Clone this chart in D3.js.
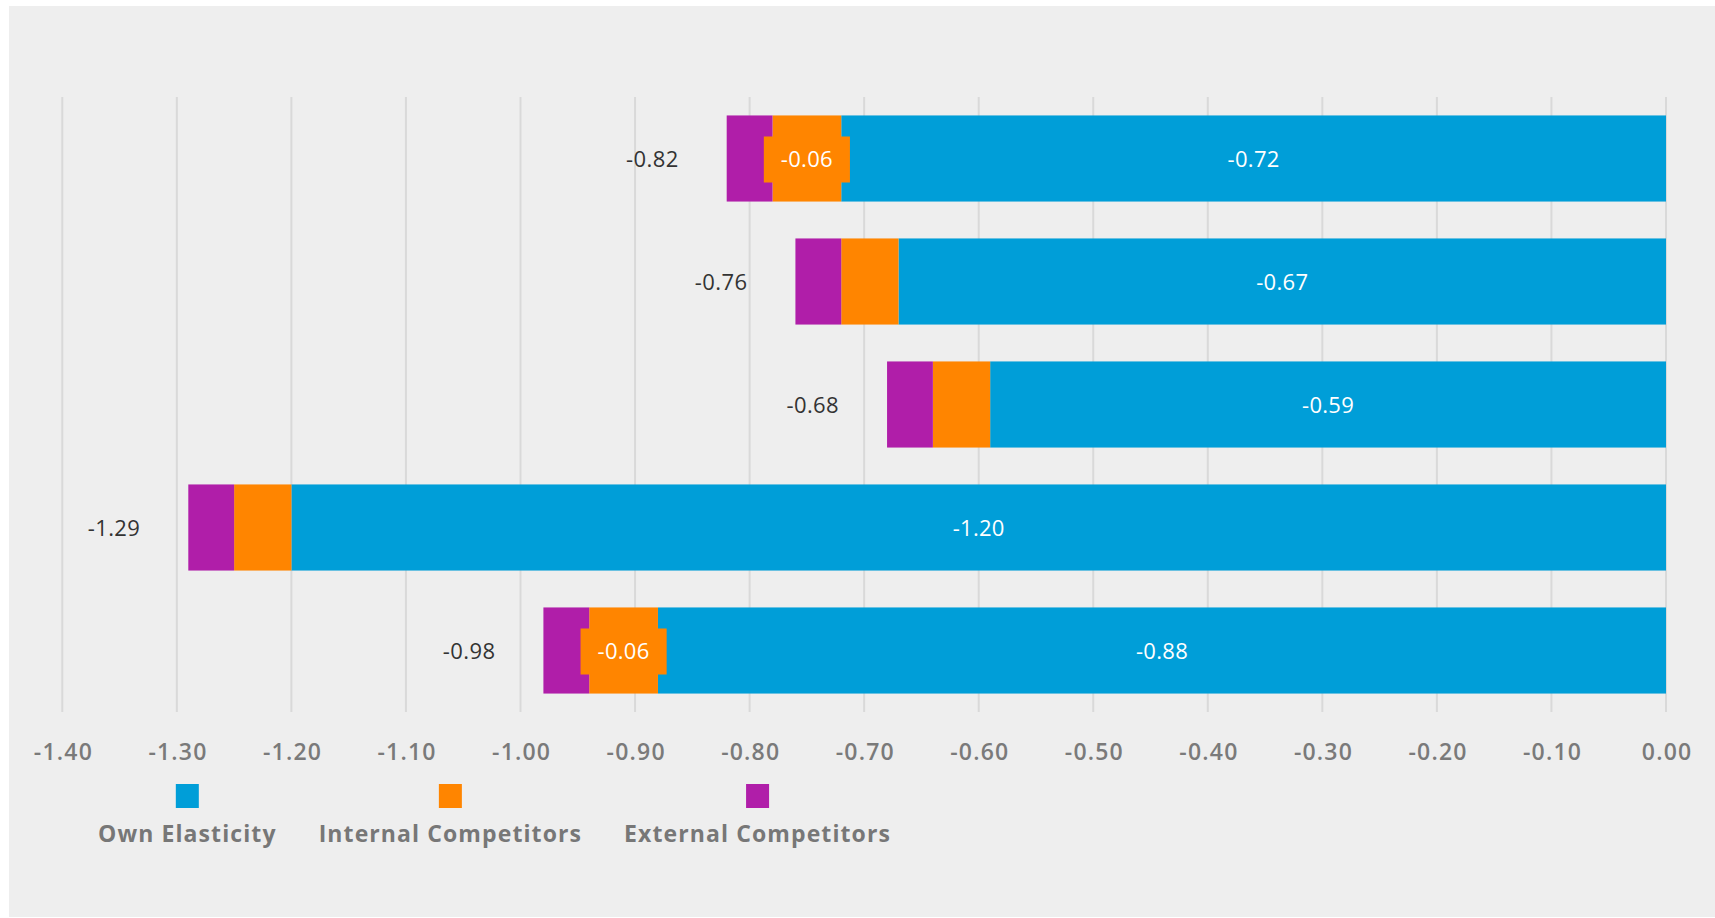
<!DOCTYPE html>
<html>
<head>
<meta charset="utf-8">
<script src="https://cdn.jsdelivr.net/npm/d3@7"></script>
<style>
  html, body { margin: 0; padding: 0; background: #ffffff; }
  svg { display: block; }
</style>
</head>
<body>
<svg id="chart" width="1715" height="918"></svg>
<script>
// Elasticity decomposition per product row (stacked, negative direction)
const rows = ["r1", "r2", "r3", "r4", "r5"];
const ownElasticity = [-0.72, -0.67, -0.59, -1.20, -0.88];
const internalCompetitors = [-0.06, -0.05, -0.05, -0.05, -0.06];
const externalCompetitors = [-0.04, -0.04, -0.04, -0.04, -0.04];
const totals = [-0.82, -0.76, -0.68, -1.29, -0.98];
const seriesNames = ["Own Elasticity", "Internal Competitors", "External Competitors"];
const seriesColors = ["#009ed8", "#ff8500", "#b01ea9"];
const tickValues = [-1.4, -1.3, -1.2, -1.1, -1.0, -0.9, -0.8, -0.7, -0.6, -0.5, -0.4, -0.3, -0.2, -0.1, 0];

const svg = d3.select("#chart");
const W = 1715, H = 918;

// panel background
svg.append("rect").attr("x", 9).attr("y", 6).attr("width", W - 9).attr("height", H - 7)
  .attr("fill", "#eeeeee");

const plot = { left: 62.3, right: 1666, top: 97, bottom: 712 };

const x = d3.scaleLinear().domain([-1.4, 0]).range([plot.left, plot.right]);
const y = d3.scaleBand().domain(rows).range([plot.top, plot.bottom])
  .paddingInner(0.3).paddingOuter(0.15);

const fontFam = "'Open Sans', 'Noto Sans', sans-serif";
const fmt = v => v.toFixed(2);

// vertical gridlines
svg.append("g").selectAll("line").data(tickValues).join("line")
  .attr("x1", d => x(d)).attr("x2", d => x(d))
  .attr("y1", plot.top).attr("y2", plot.bottom)
  .attr("stroke", "#d9d9d9").attr("stroke-width", 2);

// x axis labels via d3 axis
const axis = d3.axisBottom(x).tickValues(tickValues).tickFormat(fmt).tickSize(0).tickPadding(0);
const axisG = svg.append("g").call(axis);
axisG.select(".domain").remove();
axisG.selectAll("text")
  .attr("y", 760).attr("dy", null).attr("dx", 0.6)
  .attr("font-family", fontFam)
  .attr("font-weight", 600).attr("font-size", 23).attr("letter-spacing", 1.2)
  .attr("fill", "#7a7a7a");

// stacked segments
const seriesValues = [ownElasticity, internalCompetitors, externalCompetitors];
const segments = [];
rows.forEach((r, i) => {
  let acc = 0;
  seriesValues.forEach((vals, s) => {
    const v = vals[i];
    segments.push({ row: r, s, v, x0: acc, x1: acc + v });
    acc += v;
  });
});

svg.append("g").selectAll("rect").data(segments).join("rect")
  .attr("x", d => x(d.x1))
  .attr("width", d => x(d.x0) - x(d.x1))
  .attr("y", d => y(d.row))
  .attr("height", y.bandwidth())
  .attr("fill", d => seriesColors[d.s]);

// segment labels: own elasticity always, competitors when the segment is wide enough
const labelG = svg.append("g");
segments.forEach(d => {
  const cx = (x(d.x0) + x(d.x1)) / 2;
  const cy = y(d.row) + y.bandwidth() / 2;
  if (d.s !== 0 && Math.abs(d.v) < 0.06) return;
  const t = labelG.append("text").attr("x", cx).attr("y", cy + 8)
    .attr("text-anchor", "middle").attr("font-family", fontFam)
    .attr("font-size", 22).attr("letter-spacing", 0.3)
    .attr("fill", "#ffffff").text(fmt(d.v));
  if (d.s !== 0) {
    const bw = t.node().getComputedTextLength() + 34;
    labelG.insert("rect", () => t.node())
      .attr("x", cx - bw / 2).attr("y", cy - 22).attr("width", bw).attr("height", 46)
      .attr("fill", seriesColors[d.s]);
  }
});

// total labels to the left of each bar
svg.append("g").selectAll("text").data(rows).join("text")
  .attr("x", (r, i) => x(totals[i]) - 48)
  .attr("y", r => y(r) + y.bandwidth() / 2 + 8)
  .attr("text-anchor", "end").attr("font-family", fontFam)
  .attr("font-size", 22).attr("letter-spacing", 0.4).attr("fill", "#333333")
  .text((r, i) => fmt(totals[i]));

// legend
const legend = svg.append("g");
let lx = 98;
seriesNames.forEach((name, i) => {
  const t = legend.append("text").attr("x", lx).attr("y", 842)
    .attr("font-family", fontFam).attr("font-weight", 700)
    .attr("font-size", 23).attr("letter-spacing", 1.1)
    .attr("fill", "#777777").text(name);
  const tw = t.node().getComputedTextLength();
  legend.append("rect").attr("x", lx + tw / 2 - 11.5).attr("y", 784)
    .attr("width", 23).attr("height", 24).attr("fill", seriesColors[i]);
  lx += tw + 42;
});
</script>
</body>
</html>
